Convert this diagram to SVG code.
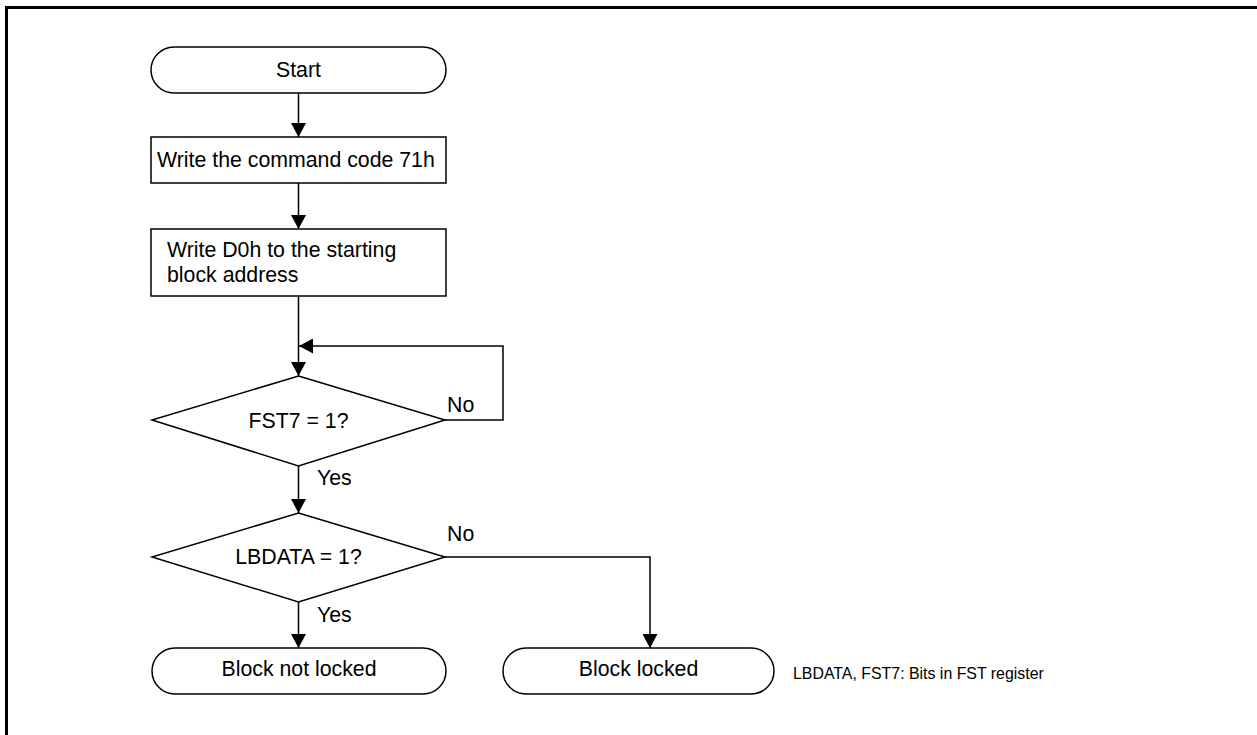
<svg xmlns="http://www.w3.org/2000/svg" width="1257" height="735" viewBox="0 0 1257 735">
<style>
.shape{fill:#fff;stroke:#000;stroke-width:1.5}
.line{fill:none;stroke:#000;stroke-width:1.5}
.t{font-family:"Liberation Sans",Arial,sans-serif;font-size:21.3px;fill:#000}
.c{text-anchor:middle}
.s{font-size:15.9px}
</style>
<defs>
<marker id="ah" markerWidth="14" markerHeight="15" refX="14" refY="7.5" orient="auto" markerUnits="userSpaceOnUse">
<path d="M0,0 L14,7.5 L0,15 Z" fill="#000"/>
</marker>
</defs>
<rect x="0" y="0" width="1257" height="735" fill="#fff"/>
<path d="M6.5,735 V7.5 H1257" fill="none" stroke="#000" stroke-width="3"/>
<g id="connectors">
<line class="line" x1="298.5" y1="93" x2="298.5" y2="137" marker-end="url(#ah)"/>
<line class="line" x1="298.5" y1="183" x2="298.5" y2="229" marker-end="url(#ah)"/>
<line class="line" x1="298.5" y1="296" x2="298.5" y2="376" marker-end="url(#ah)"/>
<polyline class="line" points="445,420 503,420 503,346 299,346" marker-end="url(#ah)"/>
<line class="line" x1="298.5" y1="466" x2="298.5" y2="513" marker-end="url(#ah)"/>
<line class="line" x1="298.5" y1="602" x2="298.5" y2="648" marker-end="url(#ah)"/>
<polyline class="line" points="445,557 650,557 650,648" marker-end="url(#ah)"/>
<text class="t" x="447" y="412">No</text>
<text class="t" x="317" y="485">Yes</text>
<text class="t" x="447" y="541">No</text>
<text class="t" x="317" y="622">Yes</text>
</g>
<g id="start">
<rect class="shape" x="151" y="47" width="295" height="46" rx="23" ry="23"/>
<text class="t c" x="298.5" y="77">Start</text>
</g>
<g id="write-command">
<rect class="shape" x="151" y="137" width="295" height="46"/>
<text class="t" x="157" y="167">Write the command code 71h</text>
</g>
<g id="write-d0h">
<rect class="shape" x="151" y="229" width="295" height="67"/>
<text class="t" x="167" y="257">Write D0h to the starting</text>
<text class="t" x="167" y="282">block address</text>
</g>
<g id="fst7">
<polygon class="shape" points="298.5,376 445,420 298.5,466 152,420"/>
<text class="t c" x="298.5" y="428">FST7 = 1?</text>
</g>
<g id="lbdata">
<polygon class="shape" points="298.5,513 445,557 298.5,602 152,557"/>
<text class="t c" x="298.5" y="564">LBDATA = 1?</text>
</g>
<g id="not-locked">
<rect class="shape" x="152" y="648" width="294" height="46" rx="23" ry="23"/>
<text class="t c" x="299" y="676">Block not locked</text>
</g>
<g id="locked">
<rect class="shape" x="503" y="648" width="271" height="46" rx="23" ry="23"/>
<text class="t c" x="638.5" y="676">Block locked</text>
</g>
<g id="note">
<text class="t s" x="793" y="679">LBDATA, FST7: Bits in FST register</text>
</g>
</svg>
